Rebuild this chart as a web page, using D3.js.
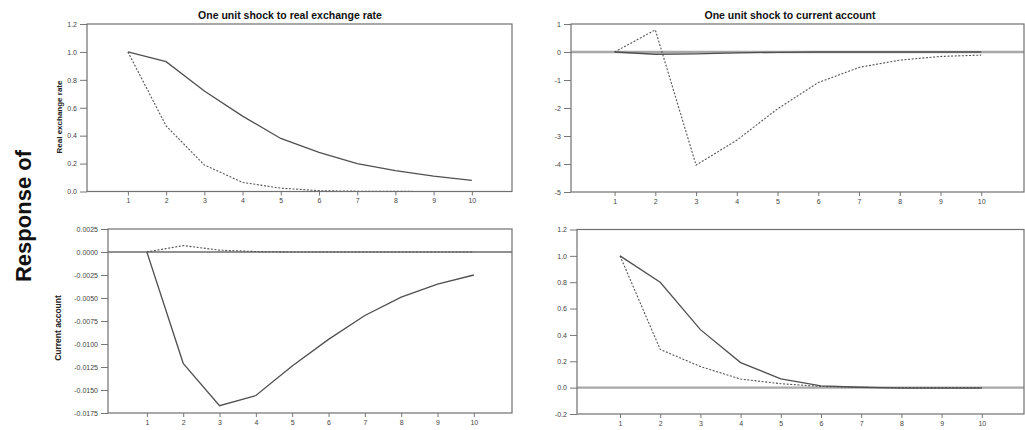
<!DOCTYPE html>
<html>
<head>
<meta charset="utf-8">
<script src="https://cdn.jsdelivr.net/npm/d3@7"></script>
<style>
body { margin:0; background:#fff; }
svg { display:block; font-family: Arial, "Liberation Sans", sans-serif; }
.tick text { fill:#444; font-size:7px; }
.tick line { stroke:#777; }
.domain { display:none; }
</style>
</head>
<body>
<svg id="chart" width="1025" height="430"></svg>
<script>
// horizon of the impulse responses
const periods = [1, 2, 3, 4, 5, 6, 7, 8, 9, 10];

// responses of real exchange rate
const rerToRerSolid = [1.0, 0.93, 0.72, 0.54, 0.38, 0.28, 0.20, 0.15, 0.11, 0.08];
const rerToRerDotted = [1.0, 0.47, 0.19, 0.065, 0.024, 0.006, 0.002, 0.001, 0, 0];
const rerToCaSolid = [0, -0.08, -0.07, -0.03, -0.01, 0, 0, 0, 0, 0];
const rerToCaDotted = [0, 0.79, -4.04, -3.15, -2.03, -1.09, -0.55, -0.29, -0.16, -0.11];

// responses of current account
const caToRerSolid = [0, -0.0121, -0.0167, -0.0156, -0.0124, -0.0095, -0.0069, -0.0049, -0.0035, -0.0025];
const caToRerDotted = [0, 0.0007, 0.0002, 0.00005, 0, 0, 0, 0, 0, 0];
const caToCaSolid = [1.0, 0.80, 0.44, 0.19, 0.067, 0.014, 0.003, -0.003, -0.003, -0.003];
const caToCaDotted = [1.0, 0.29, 0.16, 0.065, 0.03, 0.009, 0.002, 0, 0, 0];

// tick labels
const ticksTL = [0, 0.2, 0.4, 0.6, 0.8, 1.0, 1.2];
const ticksTR = [-5, -4, -3, -2, -1, 0, 1];
const ticksBL = [-0.0175, -0.015, -0.0125, -0.01, -0.0075, -0.005, -0.0025, 0, 0.0025];
const ticksBR = [-0.2, 0, 0.2, 0.4, 0.6, 0.8, 1.0, 1.2];

const colTitles = ["One unit shock to real exchange rate", "One unit shock to current account"];
const rowTitles = ["Real exchange rate", "Current account"];

const svg = d3.select("#chart");

function fmt(spec) {
	return d => d3.format(spec)(d).replace("\u2212", "-");
}

function panel(box, yDomain, yTicks, yFmt, solid, dotted, zero) {
	const x = d3.scaleLinear().domain([-0.07, 11.05]).range([box.left, box.right]);
	const y = d3.scaleLinear().domain(yDomain).range([box.bottom, box.top]);
	const g = svg.append("g");

	// y axis ticks
	g.append("g")
		.attr("transform", `translate(${box.left},0)`)
		.call(d3.axisLeft(y).tickValues(yTicks).tickFormat(yFmt).tickSize(7).tickPadding(3));
	// x axis ticks
	g.append("g")
		.attr("transform", `translate(0,${box.bottom})`)
		.call(d3.axisBottom(x).tickValues(periods).tickFormat(d3.format("d")).tickSize(4).tickPadding(3));

	if (zero) {
		g.append("line")
			.attr("x1", box.left).attr("x2", box.right)
			.attr("y1", y(0)).attr("y2", y(0))
			.style("stroke", zero.color).style("stroke-width", zero.width);
	}

	const line = d3.line().x((d, i) => x(periods[i])).y(d => y(d));
	g.append("path").datum(dotted)
		.attr("d", line)
		.style("fill", "none").style("stroke", "#555").style("stroke-width", 1.1)
		.style("stroke-dasharray", "2,1.6");
	g.append("path").datum(solid)
		.attr("d", line)
		.style("fill", "none").style("stroke", "#505050").style("stroke-width", 1.3);

	// frame
	g.append("rect")
		.attr("x", box.left).attr("y", box.top)
		.attr("width", box.right - box.left).attr("height", box.bottom - box.top)
		.style("fill", "none").style("stroke", "#707070").style("stroke-width", 1.2);
	return g;
}

const boxTL = {left: 87, right: 512, top: 24, bottom: 191.5};
const boxTR = {left: 571, right: 1024, top: 24, bottom: 192};
const boxBL = {left: 108, right: 512, top: 229, bottom: 413};
const boxBR = {left: 577, right: 1024, top: 229.5, bottom: 414};

panel(boxTL, [0, 1.2], ticksTL, fmt(".1f"), rerToRerSolid, rerToRerDotted, null);
panel(boxTR, [-5, 1], ticksTR, fmt("d"), rerToCaSolid, rerToCaDotted, {color: "#a8a8a8", width: 2.5});
panel(boxBL, [-0.0175, 0.0025], ticksBL, fmt(".4f"), caToRerSolid, caToRerDotted, {color: "#222", width: 1});
panel(boxBR, [-0.2, 1.2], ticksBR, fmt(".1f"), caToCaSolid, caToCaDotted, {color: "#a8a8a8", width: 2.2});

// column titles
svg.append("text").attr("x", 290).attr("y", 19).attr("text-anchor", "middle")
	.style("font-size", "10.5px").style("font-weight", "bold").style("fill", "#111").text(colTitles[0]);
svg.append("text").attr("x", 790).attr("y", 19).attr("text-anchor", "middle")
	.style("font-size", "10.5px").style("font-weight", "bold").style("fill", "#111").text(colTitles[1]);

// row titles
svg.append("text").attr("transform", "translate(62,117) rotate(-90)").attr("text-anchor", "middle")
	.style("font-size", "8px").style("font-weight", "bold").style("fill", "#222").text(rowTitles[0]);
svg.append("text").attr("transform", "translate(61,328) rotate(-90)").attr("text-anchor", "middle")
	.style("font-size", "8.5px").style("font-weight", "bold").style("fill", "#222").text(rowTitles[1]);

svg.append("text").attr("transform", "translate(31,216) rotate(-90)").attr("text-anchor", "middle")
	.style("font-size", "22px").style("font-weight", "bold").style("fill", "#111").text("Response of");
</script>
</body>
</html>
